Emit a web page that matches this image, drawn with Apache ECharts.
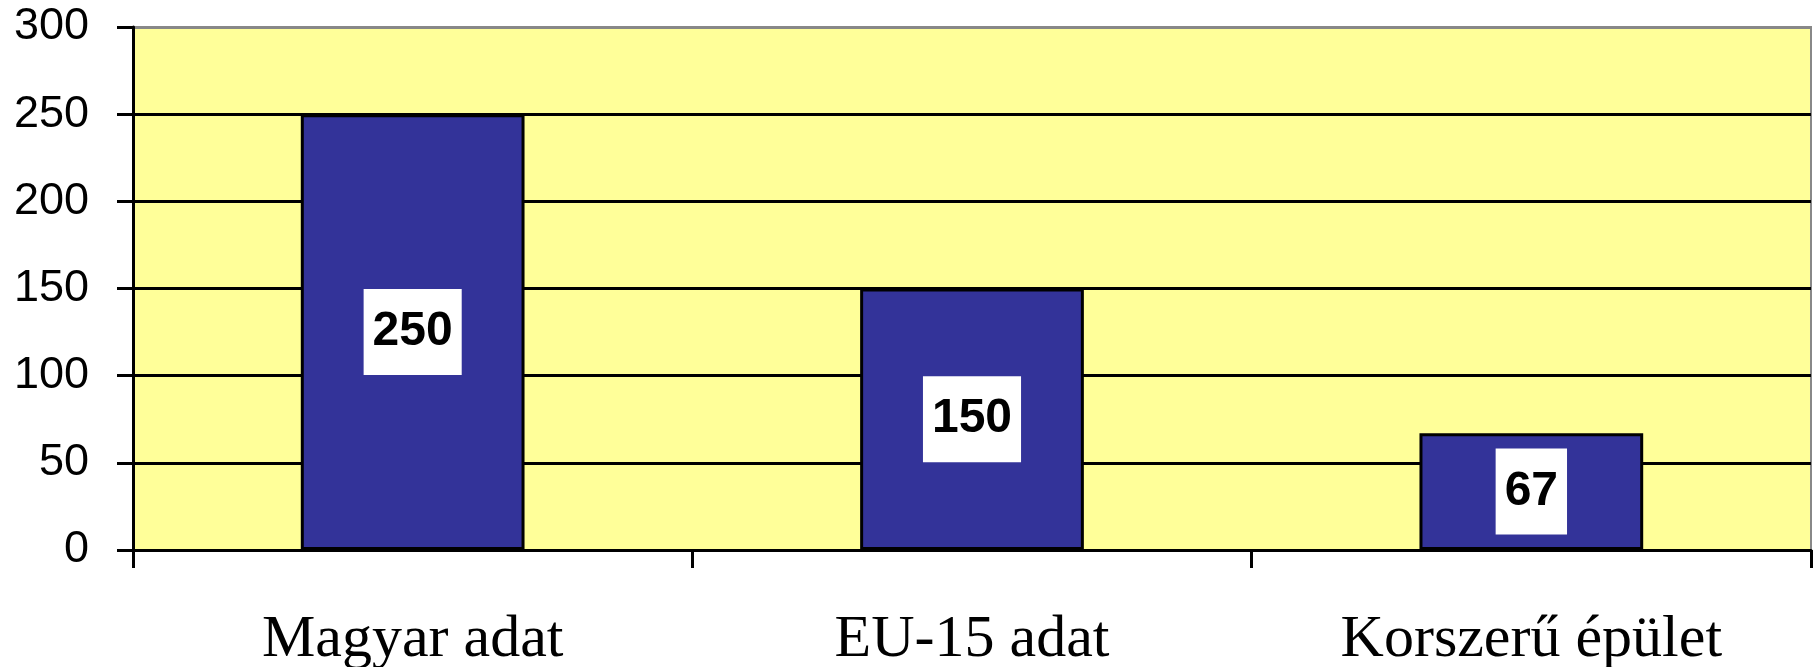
<!DOCTYPE html>
<html>
<head>
<meta charset="utf-8">
<script src="https://cdn.jsdelivr.net/npm/echarts@6/dist/echarts.min.js"></script>
<style>
  html, body { margin: 0; padding: 0; background: #ffffff; }
  #chart { width: 1819px; height: 667px; }
</style>
</head>
<body>
<div id="chart"></div>
<script>
const categories = ['Magyar adat', 'EU-15 adat', 'Korszerű épület'];
const values = [250, 150, 67];
const yTicks = { min: 0, max: 300, interval: 50 };

const chart = echarts.init(document.getElementById('chart'), null, { renderer: 'canvas' });
chart.setOption({
  animation: false,
  backgroundColor: '#ffffff',
  grid: {
    left: 133, right: 8, top: 27, bottom: 117,
    outerBoundsMode: 'none',
    containLabel: false,
    show: true,
    backgroundColor: '#FFFF99',
    borderColor: '#888888',
    borderWidth: 2
  },
  xAxis: {
    type: 'category',
    data: categories,
    boundaryGap: true,
    axisLine: { lineStyle: { color: '#000', width: 3 } },
    axisTick: { show: true, alignWithLabel: false, length: 18, lineStyle: { color: '#000', width: 3 } },
    axisLabel: {
      margin: 60,
      color: '#000',
      fontFamily: '"Liberation Serif", "Times New Roman", serif',
      fontSize: 60
    },
    splitLine: { show: false }
  },
  yAxis: {
    type: 'value',
    min: yTicks.min, max: yTicks.max, interval: yTicks.interval,
    axisLine: { show: true, lineStyle: { color: '#000', width: 3 } },
    axisTick: { show: true, length: 16, lineStyle: { color: '#000', width: 3 } },
    axisLabel: {
      margin: 44,
      color: '#000',
      fontFamily: '"Liberation Sans", Arial, sans-serif',
      fontSize: 45
    },
    splitLine: {
      show: true,
      lineStyle: {
        color: ['#000', '#000', '#000', '#000', '#000', '#000', '#888888'],
        width: 2.8
      }
    }
  },
  series: [{
    type: 'bar',
    data: values,
    barCategoryGap: '60%',
    itemStyle: { color: '#333399', borderColor: '#000', borderWidth: 3 },
    label: {
      show: true,
      position: 'inside',
      color: '#000',
      fontFamily: '"Liberation Sans", Arial, sans-serif',
      fontWeight: 'bold',
      fontSize: 48,
      backgroundColor: '#ffffff',
      padding: [19, 9, 19, 9]
    }
  }]
});
</script>
</body>
</html>
